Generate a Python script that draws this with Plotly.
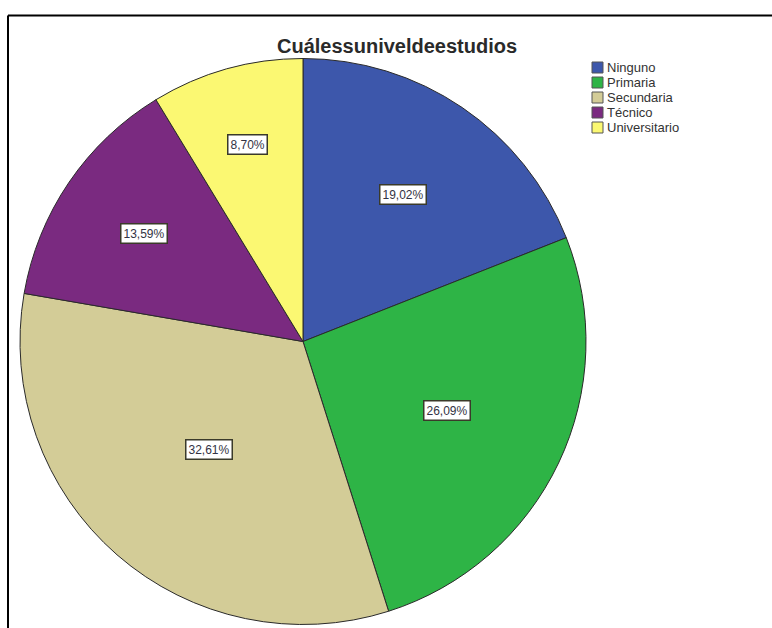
import math
import plotly.graph_objects as go

categories = ["Ninguno", "Primaria", "Secundaria", "Técnico", "Universitario"]
counts = [35, 48, 60, 25, 16]
percent_labels = ["19,02%", "26,09%", "32,61%", "13,59%", "8,70%"]
colors = ["#3d57ab", "#2eb446", "#d3cc97", "#7a2a80", "#fbf872"]
title_text = "Cuálessuniveldeestudios"

W, H = 772, 628
cx_px, cy_px, r_px = 303, 341.5, 283
dom_x = [(cx_px - r_px) / W, (cx_px + r_px) / W]
dom_y = [1 - (cy_px + r_px) / H, 1 - (cy_px - r_px) / H]

def px2paper(px, py):
    return px / W, 1 - py / H

fig = go.Figure()
fig.add_trace(go.Pie(
    labels=categories,
    values=counts,
    sort=False,
    direction="clockwise",
    rotation=0,
    marker=dict(colors=colors, line=dict(color="#2a2a2a", width=1)),
    textinfo="none",
    hoverinfo="label+percent",
    domain=dict(x=dom_x, y=dom_y),
    showlegend=False,
))

# label boxes inside each sector (narrow sectors get labels further out)
total = sum(counts)
cum = 0
annotations = []
for v, lab in zip(counts, percent_labels):
    theta = 2 * math.pi * v / total
    mid = 2 * math.pi * cum / total + theta / 2
    frac = 0.80 - 0.0025 * math.degrees(theta)
    d = frac * r_px
    x, y = px2paper(cx_px + d * math.sin(mid), cy_px - d * math.cos(mid))
    annotations.append(dict(
        x=x, y=y, xref="paper", yref="paper", xanchor="center", yanchor="middle",
        text=lab, showarrow=False,
        font=dict(family="Arial, Liberation Sans", size=12, color="#333344"),
        bgcolor="white", bordercolor="#3a3a2a", borderwidth=1.5, borderpad=2,
    ))
    cum += v

tx, ty = px2paper(397, 46)
annotations.append(dict(
    x=tx, y=ty, xref="paper", yref="paper", xanchor="center", yanchor="middle",
    text="<b>" + title_text + "</b>", showarrow=False,
    font=dict(family="Arial, Liberation Sans", size=20, color="#2a2a2a"),
))

shapes = [
    dict(type="line", xref="paper", yref="paper",
         x0=8 / W, x1=1.01, y0=1 - 15.5 / H, y1=1 - 15.5 / H,
         line=dict(color="black", width=2)),
    dict(type="line", xref="paper", yref="paper",
         x0=8 / W, x1=8 / W, y0=1 - 15.5 / H, y1=-0.01,
         line=dict(color="black", width=2)),
]

# compact legend (SPSS style): swatch + label per category
leg_x, leg_y, leg_step, sw = 592, 62, 15, 11
for i, (cat, col) in enumerate(zip(categories, colors)):
    top = leg_y + i * leg_step
    x0, y0 = px2paper(leg_x, top)
    x1, y1 = px2paper(leg_x + sw, top + sw)
    shapes.append(dict(type="rect", xref="paper", yref="paper",
                       x0=x0, x1=x1, y0=y1, y1=y0,
                       fillcolor=col, line=dict(color="#555555", width=1)))
    lx, ly = px2paper(leg_x + sw + 2, top + sw / 2)
    annotations.append(dict(
        x=lx, y=ly, xref="paper", yref="paper", xanchor="left", yanchor="middle",
        text=cat, showarrow=False,
        font=dict(family="Arial, Liberation Sans", size=13, color="#333333"),
    ))

fig.update_layout(
    width=W, height=H,
    margin=dict(l=0, r=0, t=0, b=0),
    paper_bgcolor="white",
    plot_bgcolor="white",
    annotations=annotations,
    shapes=shapes,
    showlegend=False,
)

fig.write_html("out.html", config={"displayModeBar": False},
               post_script="document.body.style.margin='0';document.body.style.overflow='hidden';")
